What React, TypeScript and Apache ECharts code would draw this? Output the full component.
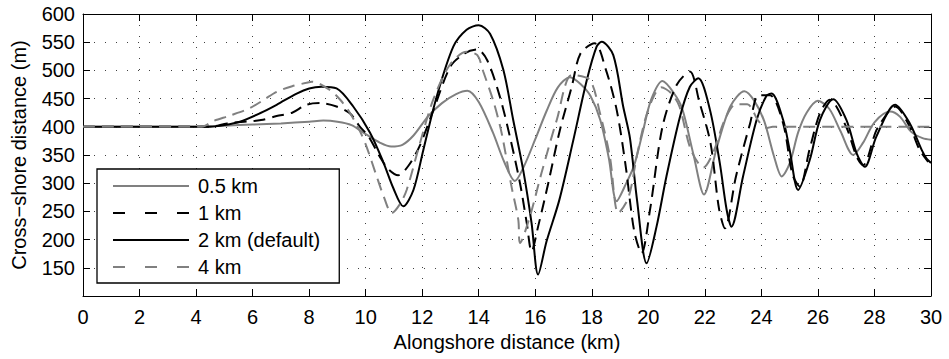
import React, { useEffect, useRef } from 'react';
import * as echarts from 'echarts';

const FONT = '"Liberation Sans", Arial, Helvetica, sans-serif';

const SERIES_NAMES = ['0.5 km', '1 km', '2 km (default)', '4 km'];

// 0.5 km
const X05 = [0, 4, 5, 6, 7, 8, 8.5, 9, 9.5, 10, 10.5, 10.9, 11.3, 11.7, 12.2, 12.7, 13.2, 13.6, 14.0, 14.5, 14.9, 15.28, 15.6, 16.0, 16.4, 16.8, 17.23, 17.6, 17.95, 18.3, 18.6, 18.88, 19.2, 19.5, 19.8, 20.1, 20.5, 20.9, 21.2, 21.6, 21.97, 22.4, 22.9, 23.4, 23.75, 24.1, 24.45, 24.72, 25.0, 25.3, 25.6, 26.0, 26.4, 26.8, 27.25, 27.6, 28.0, 28.55, 28.9, 29.3, 29.7, 30];
const Y05 = [400, 400, 402, 404, 406, 409, 411, 409, 403, 387, 372, 365, 368, 385, 418, 442, 458, 464, 444, 390, 338, 304, 330, 378, 428, 470, 488, 476, 455, 412, 345, 268, 298, 332, 390, 448, 481, 460, 432, 350, 280, 359, 436, 463, 446, 410, 347, 312, 335, 390, 425, 446, 432, 392, 350, 372, 408, 427, 418, 391, 380, 377];

// 1 km
const X1 = [0, 4.5, 5.1, 6.3, 6.85, 7.4, 7.9, 8.4, 8.97, 9.44, 9.8, 10.1, 10.5, 10.8, 11.15, 11.5, 11.9, 12.4, 13.0, 13.5, 13.95, 14.3, 14.75, 15.1, 15.46, 15.7, 15.87, 16.1, 16.46, 16.87, 17.29, 17.6, 18.1, 18.5, 18.88, 19.2, 19.5, 19.76, 20.06, 20.5, 21.0, 21.47, 21.8, 22.2, 22.5, 22.71, 23.1, 23.6, 23.9, 24.3, 24.77, 25.1, 25.36, 25.7, 26.07, 26.42, 27.0, 27.37, 27.6, 28.07, 28.55, 28.73, 29.25, 29.6, 29.9];
const Y1 = [400, 400, 406, 412, 419, 425, 439, 442, 436, 424, 400, 383, 347, 325, 314, 330, 365, 430, 507, 530, 537, 518, 453, 383, 300, 229, 179, 223, 300, 394, 471, 530, 548, 501, 430, 330, 215, 176, 253, 400, 474, 498, 445, 371, 255, 220, 312, 406, 456, 456, 406, 315, 294, 359, 424, 448, 400, 347, 332, 394, 430, 436, 400, 359, 338];

// 2 km (default)
const X2 = [0, 4.5, 5.0, 5.55, 6.26, 6.85, 7.56, 8.0, 8.44, 8.97, 9.56, 10.15, 10.62, 10.98, 11.33, 11.69, 12.04, 12.51, 13.1, 13.57, 14.0, 14.4, 14.87, 15.22, 15.57, 15.87, 16.1, 16.4, 16.85, 17.34, 17.82, 18.17, 18.35, 18.76, 19.11, 19.35, 19.6, 19.94, 20.29, 20.64, 21.12, 21.47, 21.77, 22.18, 22.53, 22.77, 22.94, 23.35, 23.83, 24.18, 24.36, 24.77, 25.0, 25.3, 25.71, 26.07, 26.54, 27.01, 27.37, 27.66, 28.07, 28.73, 29.25, 29.67, 29.85, 30];
const Y2 = [400, 400, 403, 409, 424, 439, 459, 468, 471, 468, 436, 390, 338, 291, 259, 288, 359, 453, 542, 572, 580, 565, 501, 412, 324, 229, 138, 197, 270, 375, 482, 542, 551, 527, 436, 380, 270, 158, 223, 312, 418, 471, 486, 430, 335, 253, 223, 312, 412, 455, 459, 412, 359, 288, 341, 412, 449, 412, 353, 329, 383, 439, 406, 359, 343, 336];

// 4 km
const X4 = [0, 4.2, 4.6, 5.2, 5.9, 6.4, 6.85, 7.4, 7.9, 8.1, 8.74, 9.1, 9.44, 9.8, 10.03, 10.39, 10.65, 10.92, 11.2, 11.45, 11.92, 12.39, 12.98, 13.57, 13.95, 14.16, 14.52, 14.81, 15.16, 15.4, 15.46, 15.81, 16.22, 16.76, 17.3, 17.93, 18.29, 18.64, 18.94, 19.3, 19.6, 19.9, 20.2, 20.45, 20.8, 21.1, 21.5, 21.95, 22.3, 22.7, 23.1, 23.5, 23.9, 24.2, 24.4, 30];
const Y4 = [400, 400, 410, 420, 433, 448, 462, 472, 478, 480, 465, 448, 425, 392, 365, 312, 275, 247, 262, 288, 371, 448, 510, 533, 527, 498, 445, 389, 294, 235, 194, 241, 318, 412, 492, 483, 424, 347, 247, 275, 350, 415, 455, 470, 460, 436, 360, 328, 355, 412, 440, 440, 410, 398, 400, 400];

const X_MIN = 0, X_MAX = 30, X_STEP = 2;
const Y_MIN = 100, Y_MAX = 600, Y_STEP = 50;

const zip = (xs: number[], ys: number[]) => xs.map((x, i) => [x, ys[i]]);

const GRAY = '#808080';
const BLACK = '#000000';

const textBase = { color: '#000', fontSize: 20, fontFamily: FONT };

function makeOption(): any {
  const dotted = { color: '#000', type: [1, 10] as any, width: 1, opacity: 0.75 };
  const baseAxisLine = { show: true, onZero: false, lineStyle: { color: '#000', width: 1 } };
  const tick = { show: true, inside: true, length: 7, lineStyle: { color: '#000', width: 1 } };

  const styles = [
    { color: GRAY, type: 'solid' },
    { color: BLACK, type: [12, 7] },
    { color: BLACK, type: 'solid' },
    { color: GRAY, type: [12, 7] },
  ];
  const legendTypes = ['solid', [12, 20], 'solid', [12, 20]];
  const data = [zip(X05, Y05), zip(X1, Y1), zip(X2, Y2), zip(X4, Y4)];

  return {
    animation: false,
    backgroundColor: '#fff',
    grid: { left: 83, right: 18, top: 14, bottom: 63, containLabel: false },
    legend: {
      orient: 'vertical',
      left: 97,
      top: 169,
      itemWidth: 76,
      itemHeight: 14,
      itemGap: 7,
      padding: [7, 19, 6, 15],
      borderColor: '#000',
      borderWidth: 1.3,
      borderRadius: 0,
      backgroundColor: '#fff',
      textStyle: { ...textBase, padding: [0, 0, 0, 4] },
      data: SERIES_NAMES.map((n, i) => ({
        name: n,
        itemStyle: { color: 'rgba(0,0,0,0)', borderWidth: 0, opacity: 0 },
        lineStyle: { color: styles[i].color, width: 2, type: legendTypes[i], opacity: 1 },
      })),
    },
    xAxis: [
      {
        type: 'value', min: X_MIN, max: X_MAX, interval: X_STEP, position: 'bottom',
        axisLine: baseAxisLine, axisTick: tick,
        axisLabel: { ...textBase, margin: 11 },
        splitLine: { show: true, lineStyle: dotted },
        name: 'Alongshore distance (km)', nameLocation: 'middle', nameGap: 36,
        nameTextStyle: textBase,
      },
      {
        type: 'value', min: X_MIN, max: X_MAX, interval: X_STEP, position: 'top',
        axisLine: baseAxisLine, axisTick: tick,
        axisLabel: { show: false }, splitLine: { show: false },
      },
    ],
    yAxis: [
      {
        type: 'value', min: Y_MIN, max: Y_MAX, interval: Y_STEP, position: 'left',
        axisLine: baseAxisLine, axisTick: tick,
        axisLabel: { ...textBase, margin: 8, formatter: (v: number) => (v === Y_MIN ? '' : String(v)) },
        splitLine: { show: true, lineStyle: dotted },
        name: 'Cross\u2212shore distance (m)', nameLocation: 'middle', nameGap: 54,
        nameTextStyle: textBase,
      },
      {
        type: 'value', min: Y_MIN, max: Y_MAX, interval: Y_STEP, position: 'right',
        axisLine: baseAxisLine, axisTick: tick,
        axisLabel: { show: false }, splitLine: { show: false },
      },
    ],
    series: SERIES_NAMES.map((n, i) => ({
      name: n,
      type: 'line',
      xAxisIndex: 0,
      yAxisIndex: 0,
      data: data[i],
      showSymbol: false,
      symbol: 'none',
      smooth: 0.3,
      lineStyle: { color: styles[i].color, width: 2, type: styles[i].type },
      itemStyle: { color: styles[i].color },
      z: 2 + i,
    })),
  };
}

export default function App() {
  const ref = useRef<HTMLDivElement>(null);
  useEffect(() => {
    if (!ref.current) return;
    const chart = echarts.init(ref.current, null, { renderer: 'svg' });
    chart.setOption(makeOption());
    return () => chart.dispose();
  }, []);
  return (
    <div
      ref={ref}
      style={{ position: 'absolute', left: 0, top: 0, width: 949, height: 359, background: '#fff' }}
    />
  );
}
